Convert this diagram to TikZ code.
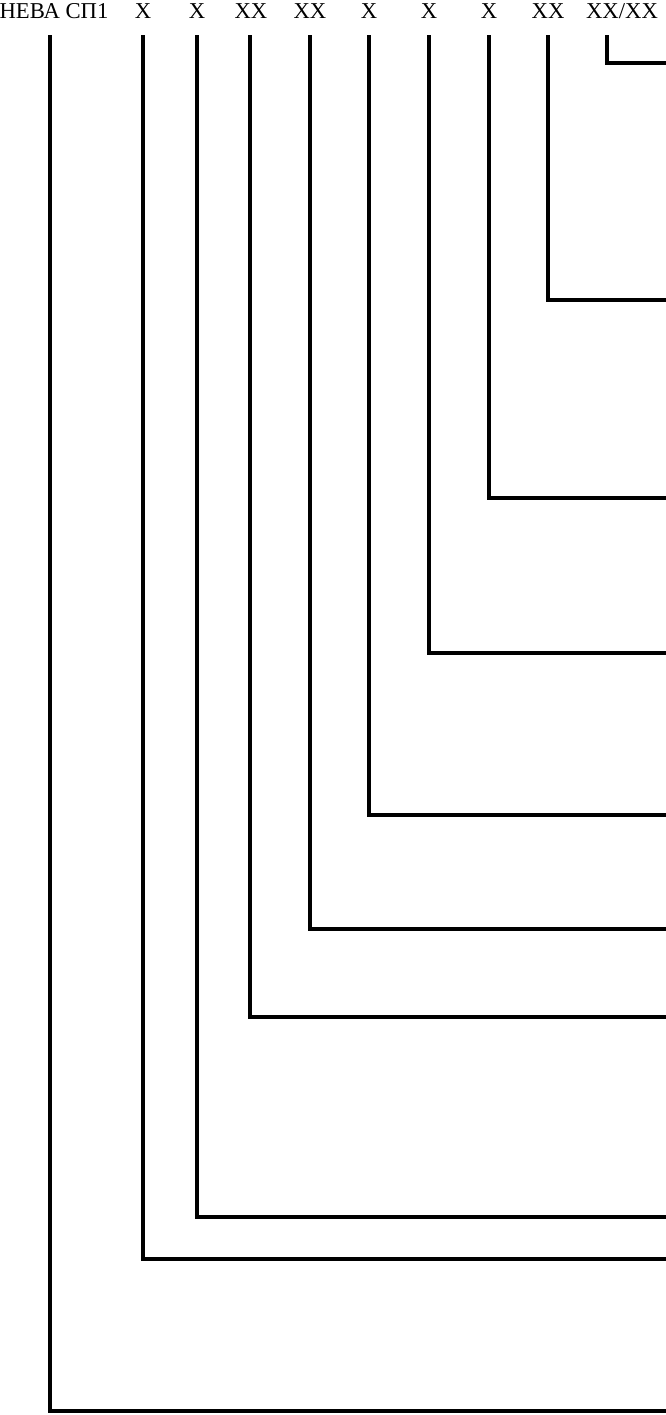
\documentclass[tikz,border=0pt]{standalone}
\usepackage{fontspec}
\setmainfont{Liberation Serif}
\usetikzlibrary{positioning}

\begin{document}
\begin{tikzpicture}[x=0.75pt, y=-0.75pt,
    lbl/.style={font=\fontsize{17}{20}\selectfont, anchor=base, inner sep=0pt},
    wire/.style={line width=3pt}]

    \useasboundingbox (0,0) rectangle (666,1415);

    % labels
    \node[lbl] at (54,18) (a) {НЕВА СП1};
    \node[lbl] at (143,18) (b) {X};
    \node[lbl] at (197,18) (c) {X};
    \node[lbl] at (251,18) (d) {XX};
    \node[lbl] at (310,18) (e) {XX};
    \node[lbl] at (369,18) (f) {X};
    \node[lbl] at (429,18) (g) {X};
    \node[lbl] at (489,18) (h) {X};
    \node[lbl] at (548,18) (i) {XX};
    \node[lbl] at (622,18) (j) {XX/XX};

    % line starts below the labels
    \coordinate (a1) at (50,35);
    \coordinate (b1) at (143,35);
    \coordinate (c1) at (197,35);
    \coordinate (d1) at (250,35);
    \coordinate (e1) at (310,35);
    \coordinate (f1) at (369,35);
    \coordinate (g1) at (429,35);
    \coordinate (h1) at (489,35);
    \coordinate (i1) at (548,35);
    \coordinate (j1) at (607,35);

    % line ends at the right edge
    \coordinate (a2) at (666,1411);
    \coordinate (b2) at (666,1259);
    \coordinate (c2) at (666,1217);
    \coordinate (d2) at (666,1017);
    \coordinate (e2) at (666,929);
    \coordinate (f2) at (666,815);
    \coordinate (g2) at (666,653);
    \coordinate (h2) at (666,498);
    \coordinate (i2) at (666,300);
    \coordinate (j2) at (666,63);

    % paths
    \draw[wire] (a1) |- (a2); % НЕВА СП1
    \draw[wire] (b1) |- (b2); % X
    \draw[wire] (c1) |- (c2); % X
    \draw[wire] (d1) |- (d2); % XX
    \draw[wire] (e1) |- (e2); % XX
    \draw[wire] (f1) |- (f2); % X
    \draw[wire] (g1) |- (g2); % X
    \draw[wire] (h1) |- (h2); % X
    \draw[wire] (i1) |- (i2); % XX
    \draw[wire] (j1) |- (j2); % XX/XX

\end{tikzpicture}
\end{document}
